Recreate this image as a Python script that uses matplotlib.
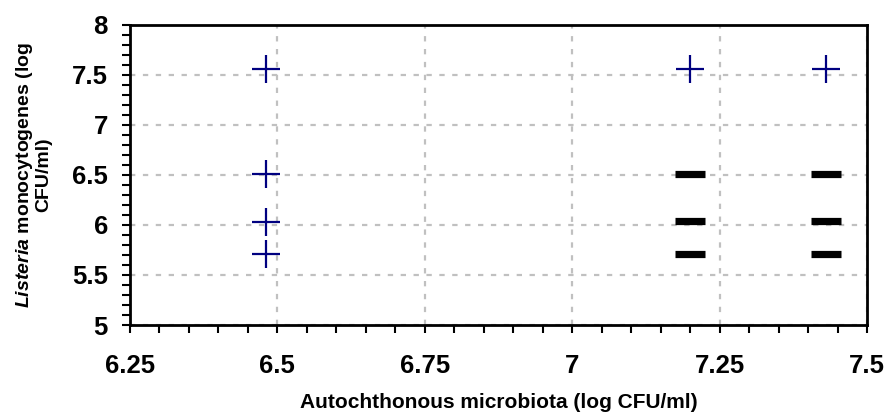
import matplotlib
matplotlib.use("Agg")
import matplotlib.pyplot as plt
from matplotlib.ticker import MultipleLocator

plt.rcParams['font.family'] = ['Liberation Sans', 'DejaVu Sans']
plt.rcParams['font.weight'] = 'bold'
plt.rcParams['axes.labelweight'] = 'bold'
plt.rcParams['mathtext.fontset'] = 'custom'
plt.rcParams['mathtext.it'] = 'Liberation Sans:italic:bold'
plt.rcParams['mathtext.rm'] = 'Liberation Sans:bold'

# Data
plus_x = [6.48, 6.48, 6.48, 6.48, 7.20, 7.43]
plus_y = [7.56, 6.51, 6.03, 5.71, 7.56, 7.56]
minus_x = [7.20, 7.20, 7.20, 7.43, 7.43, 7.43]
minus_y = [6.51, 6.04, 5.71, 6.51, 6.04, 5.71]
xticks = [6.25, 6.5, 6.75, 7.0, 7.25, 7.5]
xticklabels = ["6.25", "6.5", "6.75", "7", "7.25", "7.5"]
yticks = [5, 5.5, 6, 6.5, 7, 7.5, 8]
yticklabels = ["5", "5.5", "6", "6.5", "7", "7.5", "8"]

fig = plt.figure(figsize=(8.88, 4.19), dpi=100)
ax = fig.add_axes([130/888, 1-325/419, 737/888, 300/419])

ax.plot(plus_x, plus_y, linestyle='none', marker='+', markersize=20,
        mew=1.6, color='#000080', zorder=3)
ax.plot(minus_x, minus_y, linestyle='none', marker='_', markersize=21,
        mew=5.2, color='black', zorder=3)

ax.set_xlim(6.25, 7.5)
ax.set_ylim(5, 8)
ax.set_xticks(xticks)
ax.set_xticklabels(xticklabels, fontweight='bold')
ax.set_yticks(yticks)
ax.set_yticklabels(yticklabels, fontweight='bold')
ax.xaxis.set_minor_locator(MultipleLocator(0.05))
ax.yaxis.set_minor_locator(MultipleLocator(0.1))
ax.tick_params(which='both', direction='out', length=6, width=1.5)
ax.tick_params(which='major', labelsize=18.5)
ax.tick_params(axis='x', which='major', pad=15)
ax.tick_params(axis='y', which='major', pad=10)

ax.grid(True, which='major', linestyle=(0, (2.4, 3.4)), color='#c0c0c0', linewidth=1.6)
ax.set_axisbelow(True)
for s in ax.spines.values():
    s.set_linewidth(2)
    s.set_color('black')

ax.set_xlabel("Autochthonous microbiota (log CFU/ml)", fontsize=15,
              fontweight='bold', labelpad=11)
ax.set_ylabel(r"$\mathit{Listeria}$ monocytogenes (log" + "\n" + "CFU/ml)",
              fontsize=14, fontweight='bold', labelpad=14, linespacing=1.0)

fig.savefig("out.png", dpi=100)
